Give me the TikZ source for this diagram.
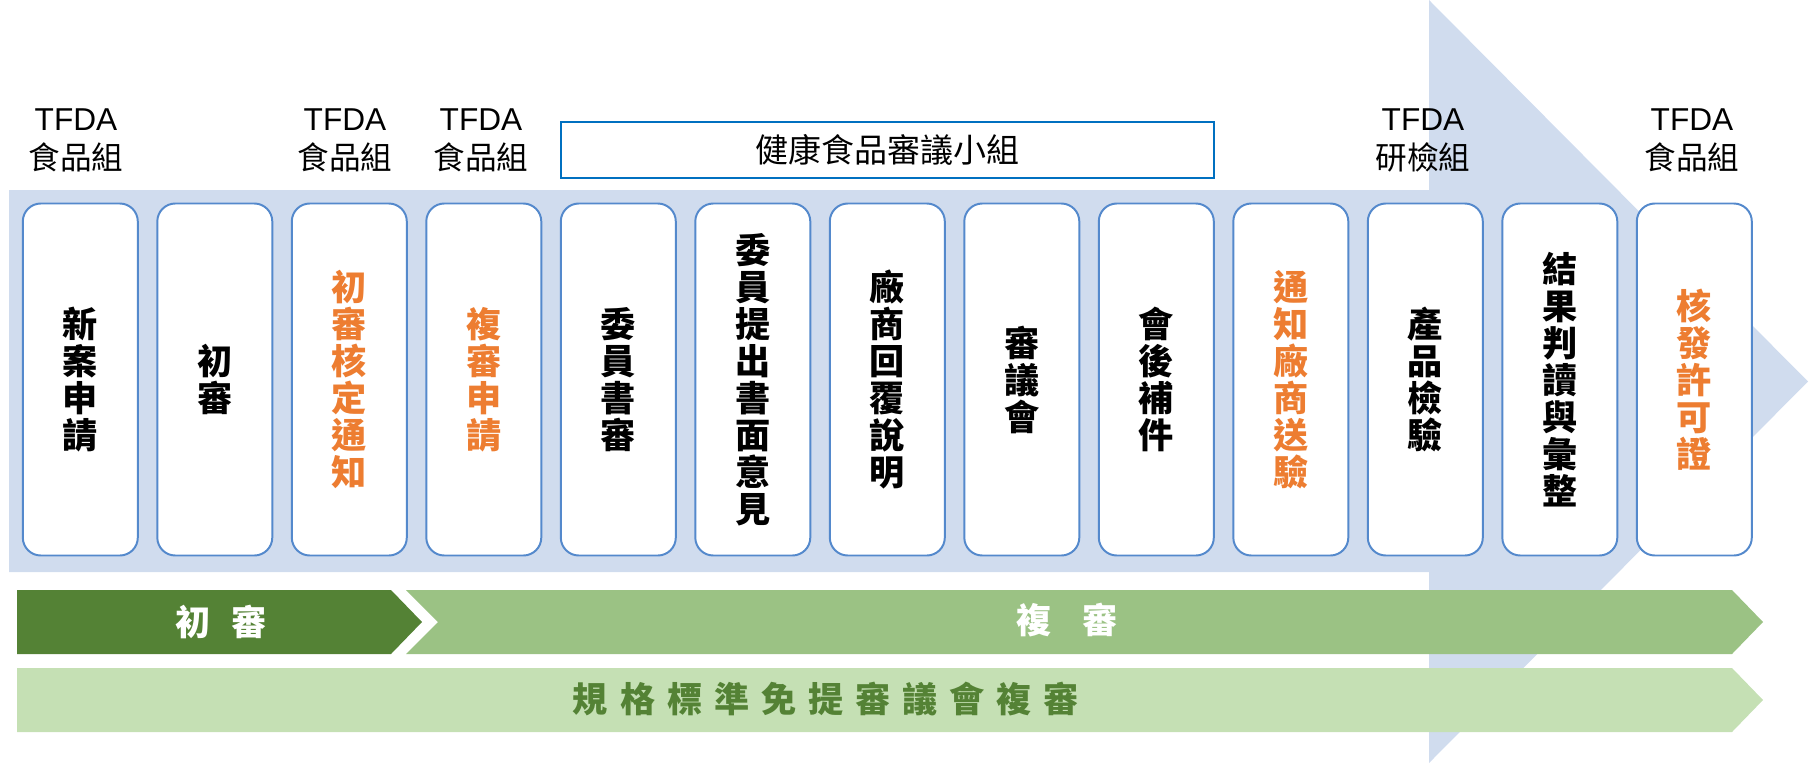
\documentclass[tikz,border=0pt]{standalone}
\usepackage{fontspec}
\setmainfont{Liberation Sans}
\newfontfamily\cjk{Noto Sans CJK TC}
\newfontfamily\cjkspread[LetterSpace=34]{Noto Sans CJK TC}
\usetikzlibrary{positioning}
\definecolor{flowblue}{RGB}{208, 220, 238}
\definecolor{boxblue}{RGB}{84, 137, 204}
\definecolor{panelblue}{RGB}{0, 112, 192}
\definecolor{noteorange}{RGB}{237, 125, 49}
\definecolor{darkgreen}{RGB}{84, 130, 53}
\definecolor{midgreen}{RGB}{155, 194, 132}
\definecolor{lightgreen}{RGB}{197, 224, 180}
\tikzset{
  stepbox/.style={
    draw=boxblue, line width=1.4pt, fill=white,
    rounded corners=4.5mm,
    minimum width=28.75mm,
    minimum height=88mm,
    inner sep=0pt,
    font=\cjk\bfseries\fontsize{25}{26.3}\selectfont,
    align=center
  },
  orglabel/.style={align=center, font=\fontsize{22.5}{27.7}\selectfont},
  barlabel/.style={font=\cjk\bfseries\fontsize{25}{28}\selectfont}
}

\begin{document}
\begin{tikzpicture}[
  x=0.25mm, y=-0.25mm,
  panel/.style={draw=panelblue, line width=1.2pt, minimum width=163.25mm, minimum height=14mm, font=\cjk\fontsize{23.5}{28}\selectfont},
]
\useasboundingbox (0,0) rectangle (1809,763);

% big arrow in the back
\fill[flowblue] (9,190) -- (1429,190) -- (1429,0) -- (1808,381.5) -- (1429,763) -- (1429,572) -- (9,572) -- cycle;

% steps
\node[stepbox] (s1) at (80.3,379.5) {新\\案\\申\\請};
\node[stepbox] (s2) at (214.8,379.5) {初\\審};
\node[stepbox, text=noteorange] (s3) at (349.3,379.5) {初\\審\\核\\定\\通\\知};
\node[stepbox, text=noteorange] (s4) at (483.8,379.5) {複\\審\\申\\請};
\node[stepbox] (s5) at (618.3,379.5) {委\\員\\書\\審};
\node[stepbox] (s6) at (752.8,379.5) {委\\員\\提\\出\\書\\面\\意\\見};
\node[stepbox] (s7) at (887.3,379.5) {廠\\商\\回\\覆\\說\\明};
\node[stepbox] (s8) at (1021.8,379.5) {審\\議\\會};
\node[stepbox] (s9) at (1156.3,379.5) {會\\後\\補\\件};
\node[stepbox, text=noteorange] (s10) at (1290.8,379.5) {通\\知\\廠\\商\\送\\驗};
\node[stepbox] (s11) at (1425.3,379.5) {產\\品\\檢\\驗};
\node[stepbox] (s12) at (1559.8,379.5) {結\\果\\判\\讀\\與\\彙\\整};
\node[stepbox, text=noteorange] (s13) at (1694.3,379.5) {核\\發\\許\\可\\證};

% who does it
\node[orglabel] (o1) at (76,140) {TFDA\\{\cjk 食品組}};
\node[orglabel] (o3) at (345,140) {TFDA\\{\cjk 食品組}};
\node[orglabel] (o4) at (481,140) {TFDA\\{\cjk 食品組}};
\node[orglabel] (o11) at (1423,140) {TFDA\\{\cjk 研檢組}};
\node[orglabel] (o13) at (1692,140) {TFDA\\{\cjk 食品組}};
\node[panel] (committee) at (887.5,150) {健康食品審議小組};

% phases
\fill[darkgreen] (17,590) -- (391,590) -- (422,622) -- (391,654) -- (17,654) -- cycle;
\fill[midgreen] (406,590) -- (1732,590) -- (1763,622) -- (1732,654) -- (406,654) -- (438,622) -- cycle;
\fill[lightgreen] (17,668) -- (1732,668) -- (1763,700) -- (1732,732) -- (17,732) -- cycle;
\node[barlabel, text=white] (first) at (221,622) {初\hspace{0.6em}審};
\node[barlabel, text=white] (second) at (1067,620) {複\hspace{0.9em}審};
\node[barlabel, text=darkgreen] (exempt) at (826,699) {\cjkspread 規格標準免提審議會複審};

\end{tikzpicture}
\end{document}
